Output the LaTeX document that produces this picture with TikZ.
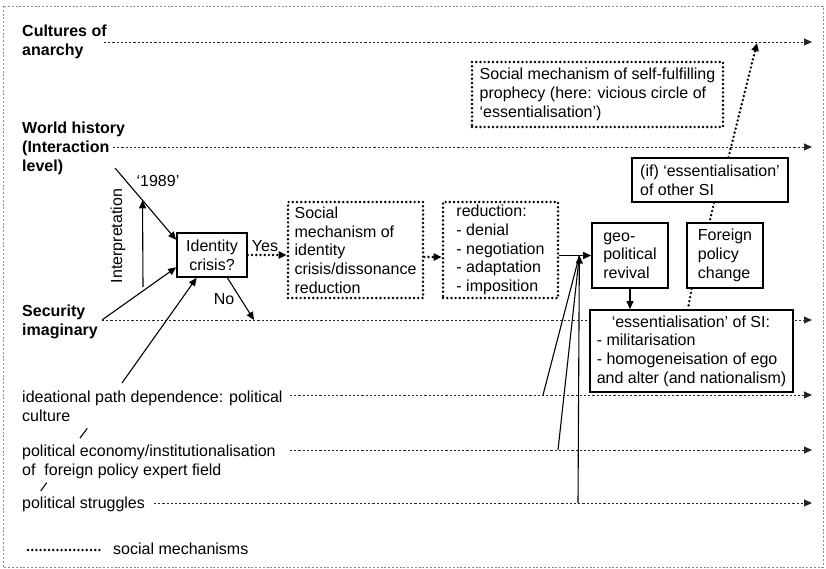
\documentclass[tikz,border=0pt]{standalone}
\usepackage{fontspec}
\setmainfont{Liberation Sans}
\usetikzlibrary{arrows.meta,calc}
\newcommand\myfs{\fontsize{16}{18.7}\selectfont}
\begin{document}
\begin{tikzpicture}[x=1pt,y=-1pt,
  font=\myfs,
  tip/.style={-{Triangle[length=8pt,width=7pt]}},
  level/.style={draw=black!85,line width=0.9pt,dash pattern=on 2.2pt off 2pt,tip},
  mech/.style={line width=2.7pt,dash pattern=on 0pt off 4.2pt,line cap=round},
  mechbox/.style={draw,mech,fill=white,align=left,inner sep=0pt},
  solidbox/.style={draw,line width=1.7pt,fill=white,align=left,inner sep=0pt},
  conn/.style={line width=1.1pt},
  lbl/.style={anchor=north west,inner sep=0pt,align=left,font=\myfs},
  boldlbl/.style={lbl,font=\myfs\bfseries},
]
\useasboundingbox (0,0) rectangle (826,569);
\draw[black!45,line width=0.8pt,dash pattern=on 2pt off 1.8pt] (3,6) rectangle (823,567);

% level line coordinates
\coordinate (ca0) at (104,42);  \coordinate (ca1) at (812,42);
\coordinate (wh0) at (113,147); \coordinate (wh1) at (812,147);
\coordinate (si0) at (102,320); \coordinate (si1) at (812,320);
\coordinate (id0) at (290,395); \coordinate (id1) at (812,395);
\coordinate (pe0) at (290,450); \coordinate (pe1) at (812,450);
\coordinate (ps0) at (154,503); \coordinate (ps1) at (812,503);

\draw[level] (ca0) -- (ca1);
\draw[level] (wh0) -- (wh1);
\draw[level] (si0) -- (si1);
\draw[level] (id0) -- (id1);
\draw[level] (pe0) -- (pe1);
\draw[level] (ps0) -- (ps1);

% left labels
\node[boldlbl] (lcult) at (22,25) {Cultures of\\anarchy};
\node[boldlbl] (lwh) at (22,122) {World history\\(Interaction\\level)};
\node[boldlbl] (lsec) at (22,305) {Security\\imaginary};
\node[lbl] (lide) at (22,391) {ideational path dependence: political\\culture};
\node[lbl] (lpol) at (22,445) {political economy/institutionalisation\\of~ foreign policy expert field};
\node[lbl] (lstr) at (22,497) {political struggles};

% boxes
\node[solidbox,align=center,minimum width=70pt,minimum height=44pt] (idc) at (212,255) {Identity\\crisis?};
\node[mechbox,minimum width=135pt,minimum height=96pt] (smid) at (355.5,250) {Social\\mechanism of\\identity\\crisis/dissonance\\reduction};
\node[mechbox,minimum width=115pt,minimum height=96pt] (red) at (500.5,250) {reduction:\\- denial\\- negotiation\\- adaptation\\- imposition};
\node[solidbox,minimum width=76pt,minimum height=65pt] (geo) at (630,255.5) {geo-\\political\\revival};
\node[solidbox,minimum width=76pt,minimum height=65pt] (fpc) at (725,255.5) {Foreign\\policy\\change};
\node[solidbox,minimum width=156pt,minimum height=44pt] (ifb) at (710,180) {(if) ‘essentialisation’\\of other SI};
\node[solidbox,minimum width=203pt,minimum height=82pt] (ess) at (691.5,351) {\hspace*{15pt}‘essentialisation’ of SI:\\- militarisation\\- homogeneisation of ego\\and alter (and nationalism)};
\node[mechbox,minimum width=251pt,minimum height=65pt] (sfp) at (597.5,94.5) {Social mechanism of self-fulfilling\\prophecy (here: vicious circle of\\‘essentialisation’)};

% text labels
\node[inner sep=0pt] (t1989) at (158,181) {‘1989’};
\node[inner sep=0pt,rotate=90] (tint) at (118,236) {Interpretation};
\node[inner sep=0pt] (tno) at (224,299) {No};
\node[inner sep=0pt] (tyes) at (265,246) {Yes};

% connectors into identity crisis
\coordinate (c1989) at (115,168);
\coordinate (cide) at (122,383);
\coordinate (cno) at (254,320);
\coordinate (cint0) at (143,287);
\draw[conn,tip] (c1989) -- (idc.157);
\coordinate (cint1) at ($(c1989)!0.45!(idc.157)$);
\draw[conn,tip] (cint0) -- (cint1);
\draw[conn,tip] (si0) -- (idc.199);
\draw[conn,tip] (cide) -- (idc.236);
\draw[conn,tip] (idc.304) -- (cno);

% mechanisms chain
\draw[mech,tip] (idc.east) -- (idc.east -| smid.west);
\draw[mech,tip] ($(smid.east)+(0,7)$) -- ($(red.west)+(0,7)$);
\draw[conn,tip] (red.east |- geo.west) -- (geo.west);

% merge of lower levels
\coordinate (mp) at ($(red.east |- geo.west)+(20,0)$);
\coordinate (cid1) at (543,395);
\coordinate (cpe1) at (558,450);
\coordinate (cps1) at (578,503);
\draw[conn] (cid1) -- (mp);
\draw[conn] (cpe1) -- (mp);
\draw[conn,tip] (cps1) -- (mp);

% right part
\draw[conn,tip] (geo.south) -- (geo.south |- ess.north);
\draw[mech] (fpc.225) -- (ess.95);
\draw[mech] (ifb.280) -- (fpc.115);
\coordinate (ccult) at (757,43);
\draw[mech,tip] (ifb.51) -- (ccult);

% small ticks
\coordinate (tk1a) at (80,438);   \coordinate (tk1b) at (87.3,428.3);
\coordinate (tk2a) at (40.7,491); \coordinate (tk2b) at (46.7,482.7);
\draw[conn] (tk1a) -- (tk1b);
\draw[conn] (tk2a) -- (tk2b);

% legend
\coordinate (leg0) at (28,550); \coordinate (leg1) at (100,550);
\draw[mech] (leg0) -- (leg1);
\node[anchor=base west,inner sep=0pt] (tleg) at (113,554) {social mechanisms};
\end{tikzpicture}
\end{document}
